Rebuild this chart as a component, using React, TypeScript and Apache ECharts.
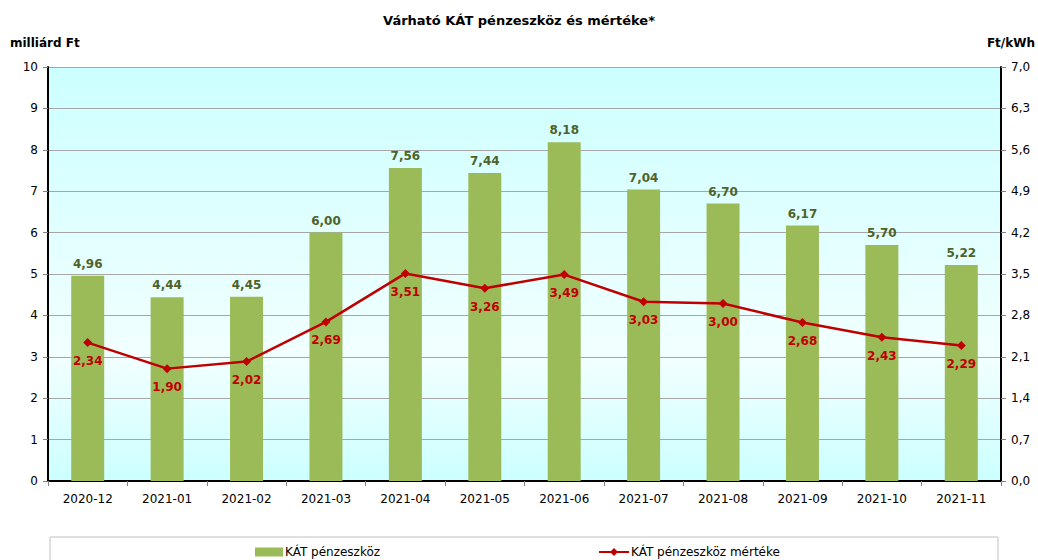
import React, { useEffect, useRef } from "react";
import * as echarts from "echarts";

const categories = ["2020-12", "2021-01", "2021-02", "2021-03", "2021-04", "2021-05", "2021-06", "2021-07", "2021-08", "2021-09", "2021-10", "2021-11"];
const fundValues = [4.96, 4.44, 4.45, 6.0, 7.56, 7.44, 8.18, 7.04, 6.7, 6.17, 5.7, 5.22];
const rateValues = [2.34, 1.9, 2.02, 2.69, 3.51, 3.26, 3.49, 3.03, 3.0, 2.68, 2.43, 2.29];
const barName = "KÁT pénzeszköz";
const lineName = "KÁT pénzeszköz mértéke";

const FONT = "'DejaVu Sans', 'Noto Sans', sans-serif";
const comma = (v: number, d: number) => v.toFixed(d).replace(".", ",");

export default function App() {
  const ref = useRef<HTMLDivElement>(null);
  useEffect(() => {
    if (!ref.current) return;
    const chart = echarts.init(ref.current, undefined, { renderer: "svg" });
    chart.setOption({
      animation: false,
      textStyle: { fontFamily: FONT },
      title: {
        text: "Várható KÁT pénzeszköz és mértéke*",
        left: "center",
        top: 9,
        textStyle: { fontSize: 13, fontWeight: "bold", color: "#000", fontFamily: FONT },
      },
      graphic: [
        {
          type: "rect",
          shape: { x: 50, y: 537, width: 948, height: 40 },
          style: { fill: "#fff", stroke: "#bfbfbf", lineWidth: 1 },
          z: -1,
        },
        {
          type: "text",
          left: 10,
          top: 37,
          style: { text: "milliárd Ft", font: `bold 12px ${FONT}`, fill: "#000" },
        },
        {
          type: "text",
          right: 3,
          top: 37,
          style: { text: "Ft/kWh", font: `bold 12px ${FONT}`, fill: "#000" },
        },
      ],
      legend: [
        {
          data: [{ name: barName, icon: "rect" }],
          left: 250,
          top: 541,
          itemWidth: 28,
          itemHeight: 9,
          textStyle: { fontSize: 12, color: "#000", fontFamily: FONT, padding: [0, 0, 0, -3] },
        },
        {
          data: [{ name: lineName }],
          left: 593,
          top: 541,
          itemWidth: 30,
          itemHeight: 10,
          textStyle: { fontSize: 12, color: "#000", fontFamily: FONT, padding: [0, 0, 0, -3] },
        },
      ],
      grid: {
        left: 48,
        right: 37,
        top: 67,
        bottom: 79,
        show: true,
        borderWidth: 0,
        backgroundColor: {
          type: "linear",
          x: 0, y: 0, x2: 0, y2: 1,
          colorStops: [
            { offset: 0, color: "#ccffff" },
            { offset: 0.7, color: "#f2ffff" },
            { offset: 1, color: "#ccffff" },
          ],
        },
      },
      xAxis: {
        type: "category",
        data: categories,
        boundaryGap: true,
        axisLine: { lineStyle: { color: "#000", width: 2 } },
        axisTick: { show: true, length: 5, lineStyle: { color: "#808080" } },
        axisLabel: { color: "#000", fontSize: 12, margin: 12, fontFamily: FONT },
      },
      yAxis: [
        {
          type: "value",
          min: 0,
          max: 10,
          interval: 1,
          axisLine: { show: true, lineStyle: { color: "#000", width: 2 } },
          axisTick: { show: true, length: 5, lineStyle: { color: "#808080" } },
          axisLabel: { color: "#000", fontSize: 12, margin: 10, fontFamily: FONT },
          splitLine: { show: true, lineStyle: { color: "#a6a6a6", width: 1 } },
        },
        {
          type: "value",
          min: 0,
          max: 7,
          interval: 0.7,
          position: "right",
          axisLine: { show: true, lineStyle: { color: "#000", width: 2 } },
          axisTick: { show: true, length: 5, lineStyle: { color: "#808080" } },
          axisLabel: { color: "#000", fontSize: 12, margin: 10, fontFamily: FONT, formatter: (v: number) => comma(v, 1) },
          splitLine: { show: false },
        },
      ],
      series: [
        {
          name: barName,
          type: "bar",
          data: fundValues,
          barWidth: 33,
          itemStyle: { color: "#9bbb59" },
          label: {
            show: true,
            position: "top",
            distance: 6,
            color: "#4f6228",
            fontWeight: "bold",
            fontSize: 12,
            fontFamily: FONT,
            formatter: (p: any) => comma(p.value, 2),
          },
        },
        {
          name: lineName,
          type: "line",
          yAxisIndex: 1,
          data: rateValues,
          symbol: "diamond",
          symbolSize: 9,
          lineStyle: { color: "#c00000", width: 2.5 },
          itemStyle: { color: "#c00000" },
          label: {
            show: true,
            position: "bottom",
            distance: 8,
            color: "#c00000",
            fontWeight: "bold",
            fontSize: 12,
            fontFamily: FONT,
            formatter: (p: any) => comma(p.value, 2),
          },
          z: 5,
        },
      ],
    });
    return () => chart.dispose();
  }, []);
  return <div ref={ref} style={{ width: 1038, height: 560, position: "absolute", left: 0, top: 0 }} />;
}
